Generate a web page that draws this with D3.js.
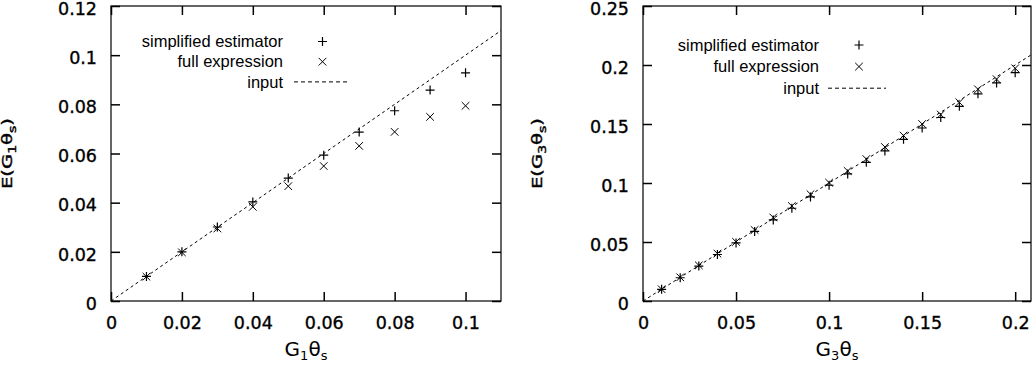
<!DOCTYPE html>
<html>
<head>
<meta charset="utf-8">
<script src="https://cdn.jsdelivr.net/npm/d3@7"></script>
<style>
  body { margin: 0; background: #fff; }
  svg { display: block; }
  .tick text { font-family: 'DejaVu Sans', sans-serif; font-size: 17.5px; fill: #000; stroke: #000; stroke-width: 0.35px; }
  .legend text { font-family: 'Liberation Sans', Arial, sans-serif; font-size: 16.5px; fill: #000; }
  .axis-label { font-family: 'DejaVu Sans', sans-serif; fill: #000; }
</style>
</head>
<body>
<script>
// left panel: G1
const xVals1 = [0.01, 0.02, 0.03, 0.04, 0.05, 0.06, 0.07, 0.08, 0.09, 0.10];
const simplified1 = [0.0100, 0.0200, 0.0301, 0.0403, 0.0500, 0.0593, 0.0687, 0.0774, 0.0858, 0.0928];
const full1 = [0.0099, 0.0198, 0.0295, 0.0383, 0.0467, 0.0549, 0.0631, 0.0688, 0.0749, 0.0794];
const input1 = [0, 0.11];
const xTicks1 = [0, 0.02, 0.04, 0.06, 0.08, 0.1];
const xTickLabels1 = ['0', '0.02', '0.04', '0.06', '0.08', '0.1'];
const yTicks1 = [0, 0.02, 0.04, 0.06, 0.08, 0.1, 0.12];
const yTickLabels1 = ['0', '0.02', '0.04', '0.06', '0.08', '0.1', '0.12'];

// right panel: G3
const xVals3 = [0.01, 0.02, 0.03, 0.04, 0.05, 0.06, 0.07, 0.08, 0.09, 0.10,
                0.11, 0.12, 0.13, 0.14, 0.15, 0.16, 0.17, 0.18, 0.19, 0.20];
const simplified3 = [0.0099, 0.0197, 0.0296, 0.0394, 0.0492, 0.0590, 0.0687, 0.0786, 0.0882, 0.0981,
                     0.1077, 0.1175, 0.1272, 0.1370, 0.1466, 0.1555, 0.1650, 0.1756, 0.1848, 0.1935];
const full3 = [0.0100, 0.0201, 0.0302, 0.0402, 0.0501, 0.0602, 0.0708, 0.0805, 0.0905, 0.1003,
               0.1102, 0.1203, 0.1305, 0.1402, 0.1500, 0.1580, 0.1684, 0.1794, 0.1880, 0.1972];
const input3 = [0, 0.2085];
const xTicks3 = [0, 0.05, 0.1, 0.15, 0.2];
const xTickLabels3 = ['0', '0.05', '0.1', '0.15', '0.2'];
const yTicks3 = [0, 0.05, 0.1, 0.15, 0.2, 0.25];
const yTickLabels3 = ['0', '0.05', '0.1', '0.15', '0.2', '0.25'];

const legendNames = ['simplified estimator', 'full expression', 'input'];

const svg = d3.select('body').append('svg')
  .attr('width', 1035)
  .attr('height', 365);

function panel(cfg) {
  const x = d3.scaleLinear().domain([0, cfg.xMax]).range([cfg.left, cfg.right]);
  const y = d3.scaleLinear().domain([0, cfg.yMax]).range([cfg.bottom, cfg.top]);
  const g = svg.append('g');
  const tick = 9;

  const fmt = (labels, ticks) => (d => labels[ticks.indexOf(d)]);

  const bottomAxis = g.append('g')
    .attr('transform', `translate(0,${cfg.bottom})`)
    .call(d3.axisBottom(x).tickValues(cfg.xTicks).tickFormat(fmt(cfg.xTickLabels, cfg.xTicks))
      .tickSizeInner(-tick).tickSizeOuter(0).tickPadding(16));
  const leftAxis = g.append('g')
    .attr('transform', `translate(${cfg.left},0)`)
    .call(d3.axisLeft(y).tickValues(cfg.yTicks).tickFormat(fmt(cfg.yTickLabels, cfg.yTicks))
      .tickSizeInner(-tick).tickSizeOuter(0).tickPadding(14));
  const topAxis = g.append('g')
    .attr('transform', `translate(0,${cfg.top})`)
    .call(d3.axisTop(x).tickValues(cfg.xTicks).tickFormat('').tickSizeInner(-tick).tickSizeOuter(0));
  const rightAxis = g.append('g')
    .attr('transform', `translate(${cfg.right},0)`)
    .call(d3.axisRight(y).tickValues(cfg.yTicks).tickFormat('').tickSizeInner(-tick).tickSizeOuter(0));

  [bottomAxis, leftAxis, topAxis, rightAxis].forEach(a => {
    a.select('.domain').remove();
    a.selectAll('.tick line').attr('stroke', '#000').attr('stroke-width', 1.5);
    a.attr('font-family', null).attr('font-size', null);
  });
  // labels sit a little under their ticks in the source
  leftAxis.selectAll('.tick text').attr('dy', '0.47em');

  g.append('rect')
    .attr('x', cfg.left).attr('y', cfg.top)
    .attr('width', cfg.right - cfg.left).attr('height', cfg.bottom - cfg.top)
    .attr('fill', 'none').attr('stroke', '#000').attr('stroke-width', 1.2);

  // input line y = x
  g.append('line')
    .attr('x1', x(cfg.input[0])).attr('y1', y(cfg.input[0]))
    .attr('x2', x(cfg.input[1])).attr('y2', y(cfg.input[1]))
    .attr('stroke', '#000').attr('stroke-width', 1)
    .attr('stroke-dasharray', '3,3');

  const plus = (sel, s) => sel.attr('d', `M${-s},0H${s}M0,${-s}V${s}`);
  const cross = (sel, s) => sel.attr('d', `M${-s},${-s}L${s},${s}M${-s},${s}L${s},${-s}`);

  g.selectAll('.simp').data(cfg.xVals)
    .enter().append('path')
      .attr('class', 'simp')
      .attr('transform', (d, i) => `translate(${x(d)},${y(cfg.simp[i])})`)
      .attr('stroke', '#000').attr('stroke-width', 1.2).attr('fill', 'none')
      .call(plus, 4.5);

  g.selectAll('.full').data(cfg.xVals)
    .enter().append('path')
      .attr('class', 'full')
      .attr('transform', (d, i) => `translate(${x(d)},${y(cfg.full[i])})`)
      .attr('stroke', '#000').attr('stroke-width', 1).attr('fill', 'none')
      .call(cross, 3.8);

  // legend
  const lg = g.append('g').attr('class', 'legend');
  legendNames.forEach((name, i) => {
    const ry = cfg.legendY + i * cfg.legendStep;
    lg.append('text')
      .attr('x', cfg.legendTextX).attr('y', ry)
      .attr('dy', '0.35em')
      .attr('text-anchor', 'end')
      .text(name);
    if (i === 0) {
      lg.append('path').attr('transform', `translate(${cfg.legendSymX},${ry})`)
        .attr('stroke', '#000').attr('stroke-width', 1.2).attr('fill', 'none').call(plus, 4.5);
    } else if (i === 1) {
      lg.append('path').attr('transform', `translate(${cfg.legendSymX},${ry})`)
        .attr('stroke', '#000').attr('stroke-width', 1).attr('fill', 'none').call(cross, 3.8);
    } else {
      lg.append('line')
        .attr('x1', cfg.legendLine[0]).attr('x2', cfg.legendLine[1])
        .attr('y1', ry).attr('y2', ry)
        .attr('stroke', '#000').attr('stroke-dasharray', '4,3');
    }
  });

  // x label
  const xl = g.append('text')
    .attr('class', 'axis-label')
    .attr('x', (cfg.left + cfg.right) / 2).attr('y', 356)
    .attr('text-anchor', 'middle')
    .style('font-size', '20px');
  xl.append('tspan').text('G');
  xl.append('tspan').attr('dy', 4).style('font-size', '13px').text(cfg.sub);
  xl.append('tspan').attr('dy', -4).text('θ');
  xl.append('tspan').attr('dy', 4).style('font-size', '13px').text('s');

  // y label (stretched along its baseline, like the source)
  const yl = g.append('text')
    .attr('class', 'axis-label')
    .attr('transform', `translate(${cfg.yLabelX},${(cfg.top + cfg.bottom) / 2}) rotate(-90) scale(1.4,1)`)
    .attr('text-anchor', 'middle')
    .style('font-size', '14px')
    .style('stroke', '#000')
    .style('stroke-width', '0.4px');
  yl.append('tspan').text('E(G');
  yl.append('tspan').attr('dy', 3.5).style('font-size', '10px').text(cfg.sub);
  yl.append('tspan').attr('dy', -3.5).text('θ');
  yl.append('tspan').attr('dy', 3.5).style('font-size', '10px').text('s');
  yl.append('tspan').attr('dy', -3.5).text(')');
}

panel({
  left: 111, right: 501, top: 6, bottom: 301,
  xMax: 0.11, yMax: 0.12,
  xVals: xVals1, simp: simplified1, full: full1, input: input1,
  xTicks: xTicks1, xTickLabels: xTickLabels1, yTicks: yTicks1, yTickLabels: yTickLabels1,
  legendY: 41.5, legendStep: 20.2, legendTextX: 283, legendSymX: 322.5, legendLine: [294, 348],
  sub: '1', yLabelX: 12
});

panel({
  left: 643, right: 1031, top: 6, bottom: 301,
  xMax: 0.2085, yMax: 0.25,
  xVals: xVals3, simp: simplified3, full: full3, input: input3,
  xTicks: xTicks3, xTickLabels: xTickLabels3, yTicks: yTicks3, yTickLabels: yTickLabels3,
  legendY: 45, legendStep: 21.6, legendTextX: 819, legendSymX: 859, legendLine: [828, 886],
  sub: '3', yLabelX: 542
});
</script>
</body>
</html>
